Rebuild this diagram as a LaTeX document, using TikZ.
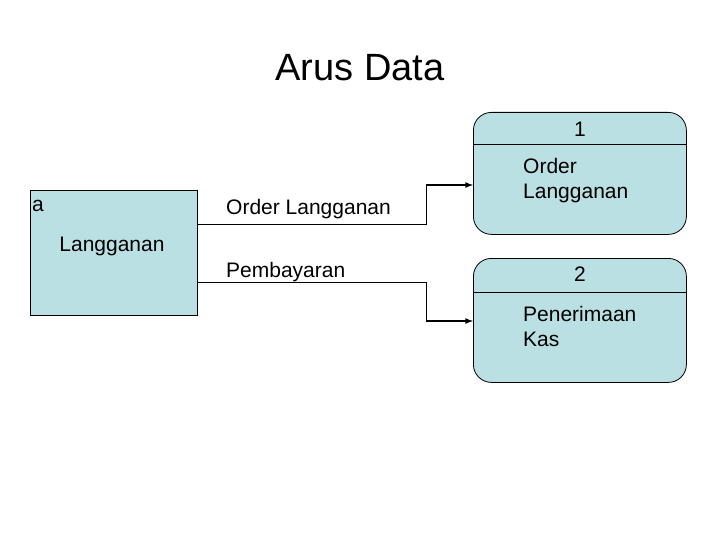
\documentclass[tikz,border=0pt]{standalone}
\usepackage{fontspec}
\setmainfont{Liberation Sans}
\begin{document}
\begin{tikzpicture}[x=1pt,y=-1pt,
  fillc/.style={fill={rgb,255:red,187;green,224;blue,227}, draw=black, line width=0.8pt},
  lbl/.style={font=\fontsize{21}{25}\selectfont, inner sep=0pt},
  flow/.style={line width=0.8pt},
  arr/.style={line width=1.6pt,-latex}]
\useasboundingbox (0,0) rectangle (720,540);
\node[font=\fontsize{38}{44}\selectfont] (title) at (360,68) {Arus Data};
\node[fillc, minimum width=167pt, minimum height=125pt, anchor=north west, inner sep=0pt] (ent) at (30,190) {};
\node[lbl, anchor=west] (a) at (32,206) {a};
\node[lbl] (lg) at (112,246) {Langganan};
\node[fillc, rounded corners=18pt, minimum width=213pt, minimum height=122pt, anchor=north west, inner sep=0pt] (p1) at (473,112) {};
\node[fillc, rounded corners=18pt, minimum width=213pt, minimum height=124pt, anchor=north west, inner sep=0pt] (p2) at (473,258) {};
\coordinate (d1l) at (473,144); \coordinate (d1r) at (686,144);
\coordinate (d2l) at (473,292); \coordinate (d2r) at (686,292);
\draw[line width=0.8pt] (d1l) -- (d1r);
\draw[line width=0.8pt] (d2l) -- (d2r);
\node[lbl] (n1) at (580,129) {1};
\node[lbl] (n2) at (580,274) {2};
\node[lbl, anchor=north west, align=left] (t1) at (523,158) {Order\\Langganan};
\node[lbl, anchor=north west, align=left] (t2) at (523,306) {Penerimaan\\Kas};
\node[lbl, anchor=west] (f1) at (226,209) {Order Langganan};
\node[lbl, anchor=west] (f2) at (226,272) {Pembayaran};
\coordinate (o1) at (197,224); \coordinate (o2) at (197,282);
\coordinate (k1) at (426,224); \coordinate (k1b) at (426,185);
\coordinate (k2) at (426,282); \coordinate (k2b) at (426,321);
\draw[flow] (o1) -- (k1) -- (k1b);
\draw[arr] (k1b) -- (p1.west |- k1b);
\draw[flow] (o2) -- (k2) -- (k2b);
\draw[arr] (k2b) -- (p2.west |- k2b);
\end{tikzpicture}
\end{document}
